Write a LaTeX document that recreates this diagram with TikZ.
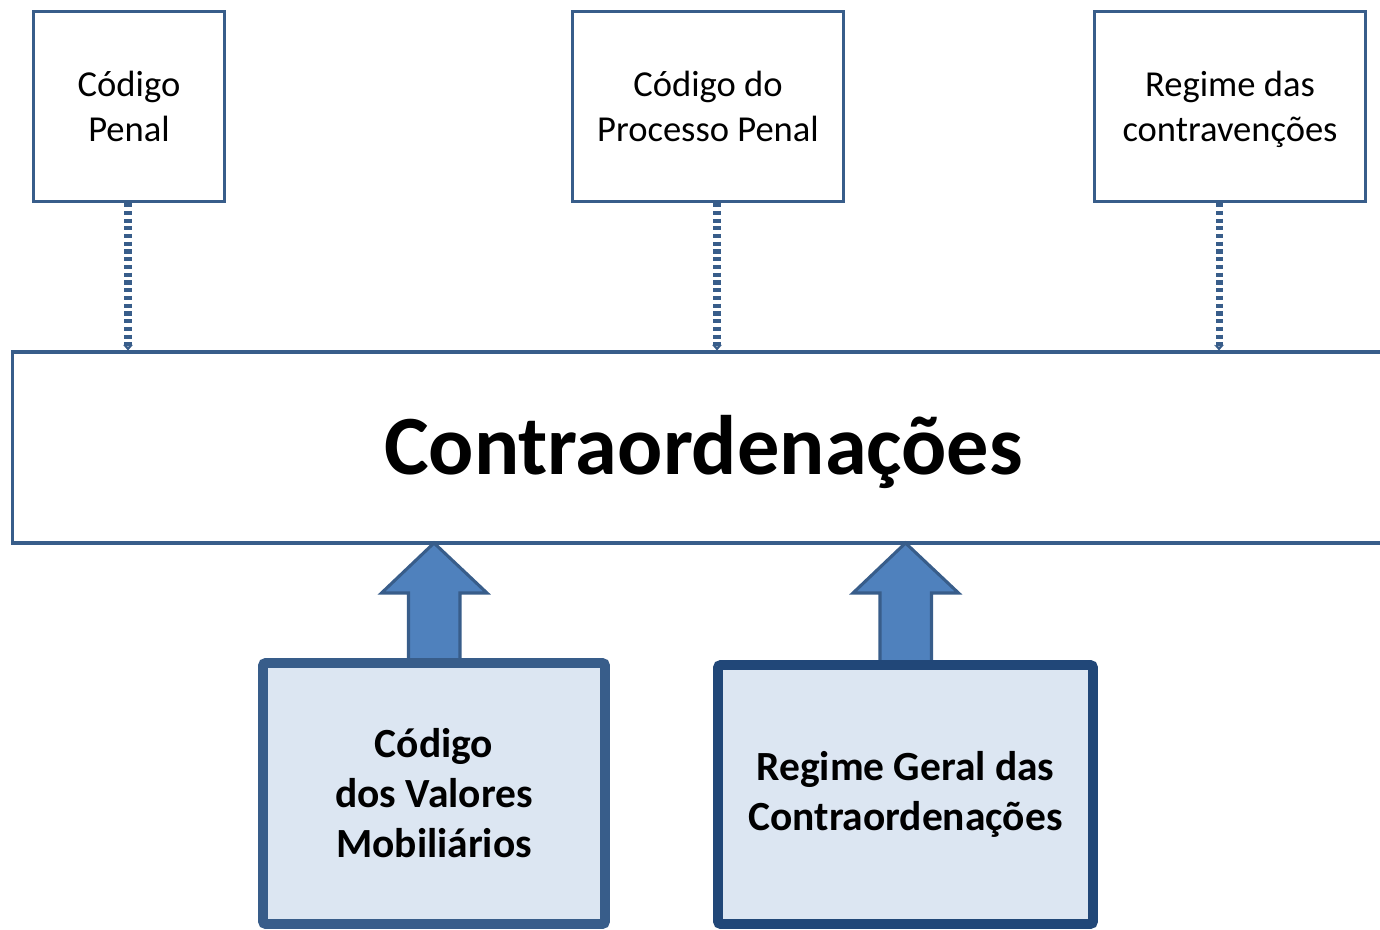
\documentclass[tikz,border=0pt]{standalone}
\usepackage{fontspec}
\setmainfont{Carlito}
\usepackage{tikz}
\usetikzlibrary{arrows.meta}
\definecolor{B}{RGB}{56,93,138}
\definecolor{D}{RGB}{33,71,120}
\definecolor{A}{RGB}{79,129,189}
\definecolor{F}{RGB}{220,230,242}
\tikzset{
  topbox/.style={draw=B, line width=2.2pt, inner sep=0pt, align=center,
    minimum height=190*0.025cm, font=\fontsize{26}{32}\selectfont},
  mainbox/.style={draw=B, line width=2.2pt, inner sep=0pt, text height=38.6pt, text depth=0pt,
    minimum height=191*0.025cm, font=\fontsize{60}{72}\selectfont\bfseries},
  lowbox/.style={draw=#1, fill=F, line width=7pt, rounded corners=2pt, inner sep=0pt,
    align=center, font=\fontsize{29.5}{35.5}\selectfont\bfseries},
  link/.style={draw=B, line width=5pt, dash pattern=on 3pt off 2.5pt,
    -{Stealth[length=4pt,width=7pt]}},
  uparrow/.style={draw=B, fill=A, line width=2.2pt, line join=miter}
}

\begin{document}
\begin{tikzpicture}[x=0.025cm,y=-0.025cm]
\useasboundingbox (0,0) rectangle (1380,929);
% top row
\node[topbox, minimum width=191*0.025cm] (cp) at (129,106.5) {Código\\Penal};
\node[topbox, minimum width=271*0.025cm] (cpp) at (708,106.5) {Código do\\Processo Penal};
\node[topbox, minimum width=271*0.025cm] (rc) at (1230,106.5) {\strut Regime das\\contravenções};
% centre
\node[mainbox, minimum width=1382*0.025cm] (co) at (703.5,447.5) {Contraordenações};
% dotted links
\draw[link] (cp.south) ++(-1,0) coordinate (cpa) -- (cpa |- co.north);
\draw[link] (cpp.south) ++(9,0) coordinate (cppa) -- (cppa |- co.north);
\draw[link] (rc.south) ++(-11,0) coordinate (rca) -- (rca |- co.north);
% block arrows
\draw[uparrow] (434,663) ++(-25.5,0) -- ++(0,-70) -- ++(-27,0) -- (434,543) -- (487,593) -- ++(-27,0) -- ++(0,70) -- cycle;
\draw[uparrow] (905.5,665) ++(-25.5,0) -- ++(0,-72) -- ++(-27,0) -- (905.5,543) -- (958.5,593) -- ++(-27,0) -- ++(0,72) -- cycle;
% bottom row
\node[lowbox=B, minimum width=342*0.025cm, minimum height=261*0.025cm] (cvm) at (434,793.5) {Código\\dos Valores\\Mobiliários};
\node[lowbox=D, minimum width=375*0.025cm, minimum height=259*0.025cm] (rgc) at (905.5,794.5) {Regime Geral das\\Contraordenações};
\end{tikzpicture}
\end{document}
